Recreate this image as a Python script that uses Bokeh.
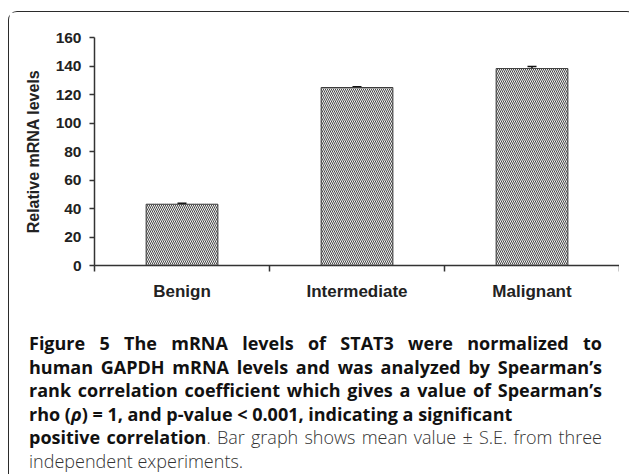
from bokeh.plotting import figure
from bokeh.models import Range1d, FixedTicker, Whisker, TeeHead, ColumnDataSource, Div
from bokeh.layouts import column
from bokeh.embed import file_html
from bokeh.resources import INLINE

# ---- data ----
categories = ["Benign", "Intermediate", "Malignant"]
means = [43.0, 124.9, 138.2]
errors = [0.7, 0.5, 1.4]
y_ticks = [0, 20, 40, 60, 80, 100, 120, 140, 160]
y_label = "Relative mRNA levels"
caption_lines = [
    ("b", "Figure 5 The mRNA levels of STAT3 were normalized to", True),
    ("b", "human GAPDH mRNA levels and was analyzed by Spearman\u2019s", True),
    ("b", "rank correlation coefficient which gives a value of Spearman\u2019s", True),
    ("b", "rho (<i>\u03c1</i>) = 1, and p-value &lt; 0.001, indicating a significant", False),
    ("m", "<span style='font-weight:700;color:#111'>positive correlation</span>. "
          "Bar graph shows mean value \u00b1 S.E. from three", True),
    ("n", "independent experiments.", False),
]

xpos = [i + 0.5 for i in range(len(categories))]
bounds = list(range(len(categories) + 1))
src = ColumnDataSource(dict(
    x=xpos, top=means, cat=categories,
    lower=[m - e for m, e in zip(means, errors)],
    upper=[m + e for m, e in zip(means, errors)],
))

p = figure(width=610, height=293, x_range=Range1d(0, len(categories)),
           y_range=Range1d(y_ticks[0], y_ticks[-1]),
           output_backend="svg", toolbar_location=None,
           min_border_left=85, min_border_right=0, min_border_top=25, min_border_bottom=40)
p.xgrid.visible = False
p.ygrid.visible = False
p.outline_line_color = None
p.background_fill_color = "white"
p.border_fill_color = "white"

p.vbar(x="x", top="top", bottom=0, width=0.41, source=src,
       fill_color="#f2f2f2", line_color="#3a3a3a", line_width=1,
       hatch_pattern="\\", hatch_color="#4a4a4a", hatch_scale=4, hatch_weight=1)

w = Whisker(base="x", upper="upper", lower="lower", source=src,
            line_color="#111111", line_width=1.5,
            upper_head=TeeHead(size=9, line_color="#111111", line_width=1.5),
            lower_head=TeeHead(size=9, line_color="#111111", line_width=1.5))
p.add_layout(w)

ax_col = "#333333"
yax = p.yaxis[0]
yax.ticker = FixedTicker(ticks=y_ticks)
yax.axis_label = y_label
yax.axis_label_text_font = "Liberation Sans"
yax.axis_label_text_font_style = "bold"
yax.axis_label_text_font_size = "16px"
yax.axis_label_text_color = "#222222"
yax.axis_label_standoff = 11
yax.major_label_text_font = "Liberation Sans"
yax.major_label_text_font_style = "bold"
yax.major_label_text_font_size = "15.5px"
yax.major_label_text_color = "#222222"
yax.major_label_standoff = 8
yax.major_tick_out = 5
yax.major_tick_in = 0
yax.minor_tick_line_color = None
yax.axis_line_color = ax_col
yax.axis_line_width = 1.5
yax.major_tick_line_color = ax_col
yax.major_tick_line_width = 1.5

xax = p.xaxis[0]
xax.ticker = FixedTicker(ticks=xpos, minor_ticks=bounds)
xax.major_label_overrides = {x: c for x, c in zip(xpos, categories)}
xax.major_label_text_font = "Liberation Sans"
xax.major_label_text_font_style = "bold"
xax.major_label_text_font_size = "17px"
xax.major_label_text_color = "#222222"
xax.major_label_standoff = 10
xax.major_tick_out = 0
xax.major_tick_in = 0
xax.major_tick_line_color = None
xax.minor_tick_out = 6
xax.minor_tick_in = 0
xax.minor_tick_line_color = ax_col
xax.minor_tick_line_width = 1.5
xax.axis_line_color = ax_col
xax.axis_line_width = 1.5

parts = []
for kind, txt, just in caption_lines:
    align = "text-align:justify;text-align-last:justify;" if just else "text-align:left;"
    if kind == "b":
        style = "font-weight:700;color:#111;"
    else:
        style = "font-weight:300;color:#333;"
    parts.append(f'<div style="{align}{style}">{txt}</div>')
html = ('<div style="font-family:\'Open Sans\',sans-serif;font-size:18px;line-height:23.6px;'
        'width:588px;padding-left:15px;padding-top:22px;">' + "".join(parts) + "</div>")
div = Div(text=html, width=610, height=168, styles={"overflow": "hidden"})

layout = column(p, div, styles={
    "border": "1.5px solid #2b2b2b", "border-bottom": "none",
    "border-radius": "9px 9px 0 0", "margin-top": "11px", "margin-left": "8px",
    "padding-right": "6px",
})

open("out.html", "w").write(file_html(layout, INLINE))
